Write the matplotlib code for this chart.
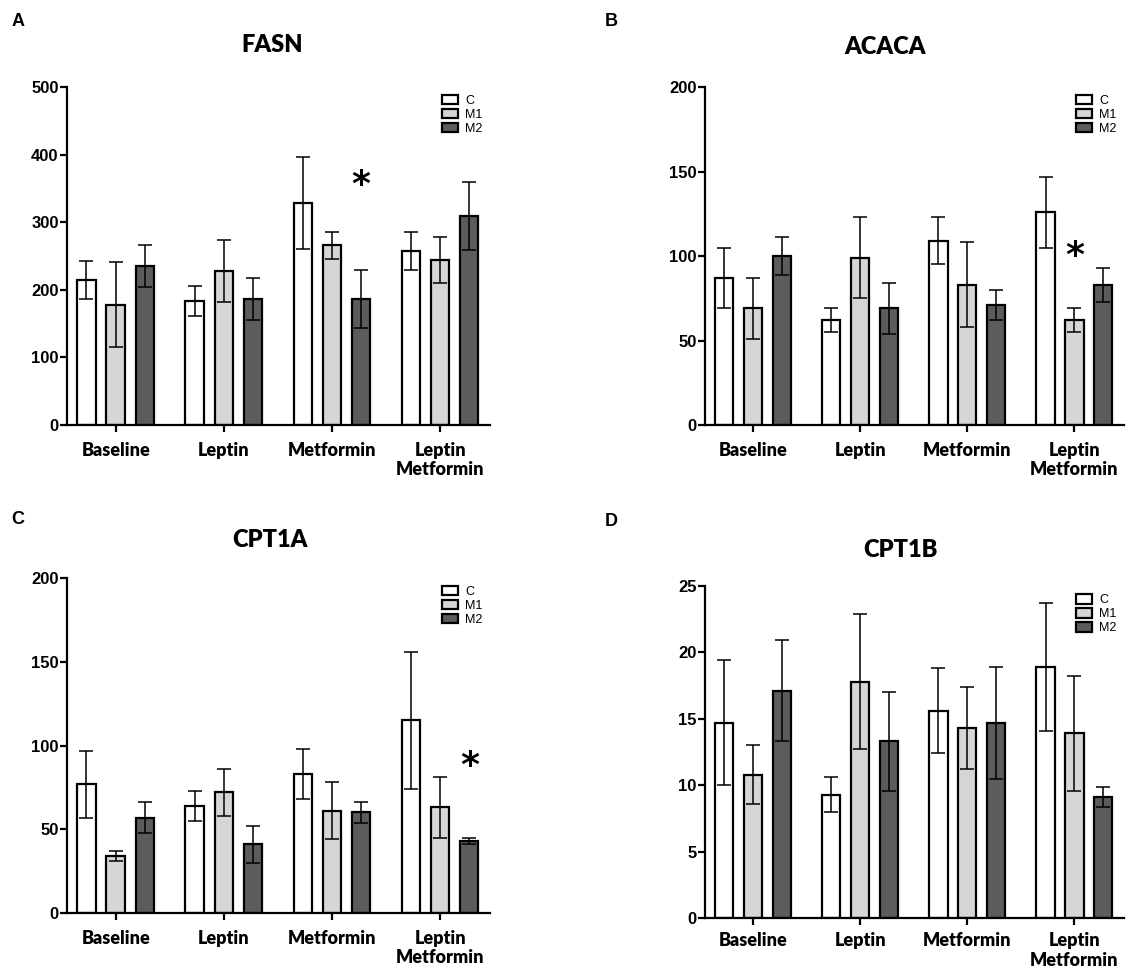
import numpy as np
import matplotlib.pyplot as plt

# grupos y series
grupos = ['Baseline', 'Leptin', 'Metformin', 'Leptin\nMetformin']
series = ['C', 'M1', 'M2']
colores = ['white', '#d6d6d6', '#5c5c5c']

# FASN
fasn_c = [215, 183, 328, 258]
fasn_c_err = [28, 22, 68, 28]
fasn_m1 = [178, 228, 266, 244]
fasn_m1_err = [63, 46, 20, 34]
fasn_m2 = [235, 186, 187, 309]
fasn_m2_err = [31, 31, 43, 50]

# ACACA
acaca_c = [87, 62, 109, 126]
acaca_c_err = [18, 7, 14, 21]
acaca_m1 = [69, 99, 83, 62]
acaca_m1_err = [18, 24, 25, 7]
acaca_m2 = [100, 69, 71, 83]
acaca_m2_err = [11, 15, 9, 10]

# CPT1A
cpt1a_c = [77, 64, 83, 115]
cpt1a_c_err = [20, 9, 15, 41]
cpt1a_m1 = [34, 72, 61, 63]
cpt1a_m1_err = [3, 14, 17, 18]
cpt1a_m2 = [57, 41, 60, 43]
cpt1a_m2_err = [9, 11, 6, 2]

# CPT1B
cpt1b_c = [14.7, 9.3, 15.6, 18.9]
cpt1b_c_err = [4.7, 1.3, 3.2, 4.8]
cpt1b_m1 = [10.8, 17.8, 14.3, 13.9]
cpt1b_m1_err = [2.2, 5.1, 3.1, 4.3]
cpt1b_m2 = [17.1, 13.3, 14.7, 9.1]
cpt1b_m2_err = [3.8, 3.7, 4.2, 0.75]

# asteriscos: (grupo, serie, altura)
fasn_sig = (2, 2, 355)
acaca_sig = (3, 1, 100)
cpt1a_sig = (3, 2, 88)

fig = plt.figure(figsize=(11.26, 9.69), dpi=100)

def panel(rect, valores, errores, ymax, paso, titulo, tpos, letra, lpos, sig=None, pad=7):
    ax = fig.add_axes(rect)
    x = np.arange(len(grupos))
    ancho = 0.17
    for i, (v, e) in enumerate(zip(valores, errores)):
        ax.bar(x + (i - 1) * 0.27, v, ancho, yerr=e, color=colores[i],
               edgecolor='black', linewidth=1.6, label=series[i],
               error_kw=dict(ecolor='black', elinewidth=1.1, capsize=5, capthick=1.1),
               zorder=2)
    ax.set_xlim(-0.45, 3.46)
    ax.set_ylim(0, ymax)
    yt = np.arange(0, ymax + paso, paso)
    ax.set_yticks(yt)
    ax.set_yticklabels([str(v) for v in yt], fontfamily='Liberation Sans',
                       fontweight='bold', fontsize=12)
    ax.set_xticks(x)
    ax.set_xticklabels(grupos, fontfamily='Lato', fontweight='heavy', fontsize=13,
                       linespacing=1.2)
    ax.spines['top'].set_visible(False)
    ax.spines['right'].set_visible(False)
    ax.spines['left'].set_linewidth(1.6)
    ax.spines['bottom'].set_linewidth(1.6)
    ax.tick_params(axis='both', width=1.6, length=5, direction='out')
    ax.tick_params(axis='x', pad=pad)
    ax.tick_params(axis='y', pad=1)
    leg = ax.legend(loc='upper right', bbox_to_anchor=(1.01, 1.01), frameon=False,
                    handlelength=1.3, handleheight=0.8,
                    labelspacing=0.15, handletextpad=0.6,
                    prop={'family': 'Liberation Sans', 'size': 9})
    for h in leg.legend_handles:
        h.set_linewidth(1.6)
    if sig is not None:
        g, s, y = sig
        ax.text(g + (s - 1) * 0.27, y, '*', ha='center', va='center',
                fontsize=26, fontweight='bold', fontfamily='DejaVu Sans')
    fig.text(tpos[0] / 1126, 1 - tpos[1] / 969, titulo, ha='center', va='center',
             fontfamily='Lato', fontweight='heavy', fontsize=17)
    fig.text(lpos[0] / 1126, 1 - lpos[1] / 969, letra, ha='center', va='center',
             fontfamily='Liberation Sans', fontweight='bold', fontsize=13)
    return ax

panel([0.0595, 0.5614, 0.3755, 0.3488], [fasn_c, fasn_m1, fasn_m2],
      [fasn_c_err, fasn_m1_err, fasn_m2_err], 500, 100, 'FASN', (272, 45), 'A', (18, 22), fasn_sig)
panel([0.626, 0.5614, 0.372, 0.3488], [acaca_c, acaca_m1, acaca_m2],
      [acaca_c_err, acaca_m1_err, acaca_m2_err], 200, 50, 'ACACA', (885, 47), 'B', (611, 22), acaca_sig)
panel([0.0595, 0.0578, 0.3755, 0.3457], [cpt1a_c, cpt1a_m1, cpt1a_m2],
      [cpt1a_c_err, cpt1a_m1_err, cpt1a_m2_err], 200, 50, 'CPT1A', (270, 540), 'C', (18, 520), cpt1a_sig)
panel([0.626, 0.0526, 0.372, 0.3426], [cpt1b_c, cpt1b_m1, cpt1b_m2],
      [cpt1b_c_err, cpt1b_m1_err, cpt1b_m2_err], 25, 5, 'CPT1B', (900, 550), 'D', (611, 522), pad=5)

plt.savefig('out.png', dpi=100)
